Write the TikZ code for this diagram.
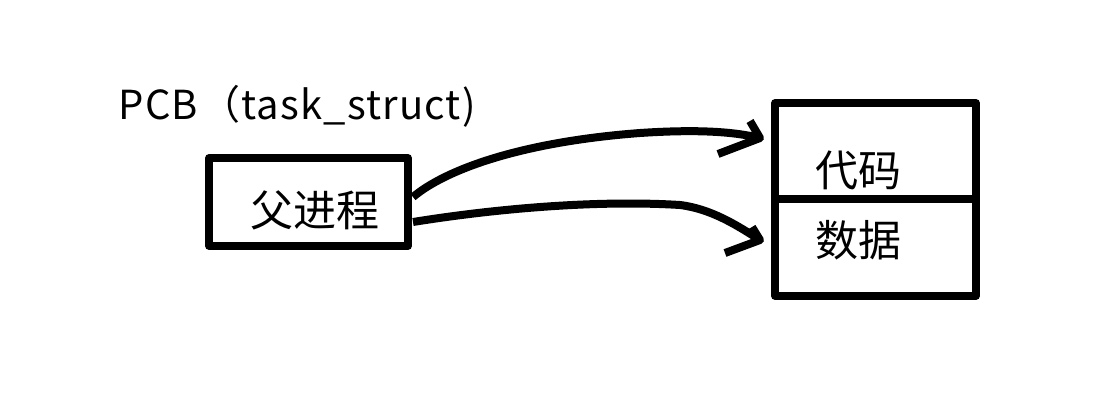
\documentclass[tikz,border=0pt]{standalone}
\usepackage{fontspec}
\setmainfont{Noto Sans CJK SC}
\newfontfamily\pcbfont[LetterSpace=3]{Noto Sans CJK SC}
\begin{document}
\begin{tikzpicture}[x=1pt,y=-1pt,line width=7.5pt,line join=round,
  box/.style={draw,rectangle,inner sep=0pt,outer sep=0pt},
  cjk/.style={inner sep=0pt,font=\fontsize{43}{50}\selectfont},
  lbl/.style={inner sep=0pt,anchor=west,font=\pcbfont\fontsize{40}{48}\selectfont},
  hand/.style={line width=8pt,line cap=butt}]
\useasboundingbox[fill=white] (0,0) rectangle (1104,402);
% boxes
\node[box,minimum width=199pt,minimum height=88pt] (parent) at (308.5,202) {};
\node[box,minimum width=201pt,minimum height=96pt] (code) at (875.5,151) {};
\node[box,minimum width=201pt,minimum height=97pt] (data) at (875.5,247.5) {};
% texts
\node[lbl] (pcb) at (115,106) {PCB\hspace{2pt}（task\_struct)};
\node[cjk] (ptxt) at (315,210) {父进程};
\node[cjk] (ctxt) at (858,170) {代码};
\node[cjk] (dtxt) at (858,240) {数据};
% connector ends
\coordinate (s1) at (413,197);
\coordinate (s2) at (413,222);
\coordinate (t1) at (760,138);
\coordinate (t2) at (760,240);
% connectors
\draw[hand] (s1) .. controls (445,170) and (520,142) .. (640,133)
  .. controls (700,129) and (735,132) .. (t1);
\draw[hand] (t1) ++(-10,-17) -- (t1) -- ++(-42,16);
\draw[hand] (s2) .. controls (500,208) and (600,200) .. (680,205)
  .. controls (712,209) and (738,226) .. (t2);
\draw[hand] (t2) ++(-8,-13) -- (t2) -- ++(-35,13);
\end{tikzpicture}
\end{document}
